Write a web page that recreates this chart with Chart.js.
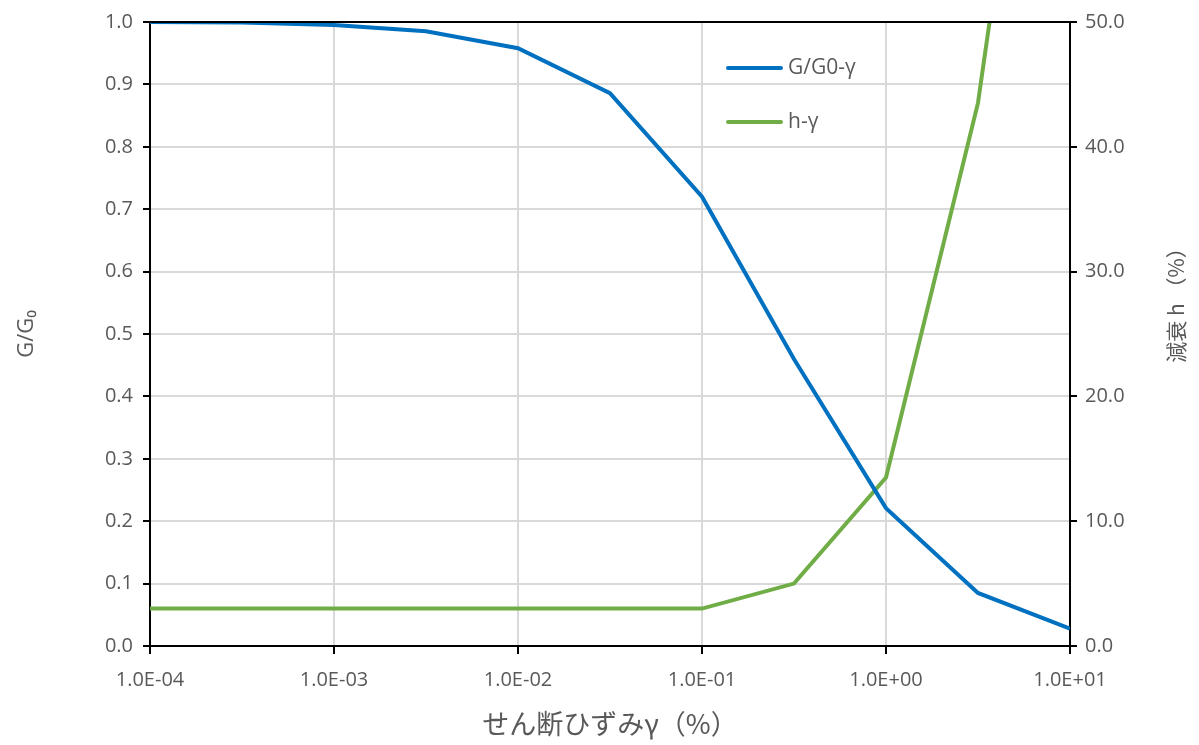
<!DOCTYPE html>
<html>
<head>
<meta charset="utf-8">
<script src="https://cdn.jsdelivr.net/npm/chart.js@4.4.1/dist/chart.umd.min.js"></script>
<style>
html,body{margin:0;padding:0;background:#fff;}
#wrap{width:1199px;height:745px;position:relative;}
</style>
</head>
<body>
<div id="wrap"><canvas id="c" width="1199" height="745"></canvas></div>
<script>
// strain γ (%)
const strain = [0.0001, 0.000316, 0.001, 0.00316, 0.01, 0.0316, 0.1, 0.316, 1, 3.16, 10];
// G/G0
const gRatio = [1.0, 0.999, 0.995, 0.985, 0.958, 0.886, 0.72, 0.46, 0.221, 0.085, 0.028];
// damping h (%)
const damping = [3.0, 3.0, 3.0, 3.0, 3.0, 3.0, 3.0, 5.0, 13.5, 43.5, 95];
const xTickValues = [0.0001, 0.001, 0.01, 0.1, 1, 10];
const xTickLabels = ['1.0E-04', '1.0E-03', '1.0E-02', '1.0E-01', '1.0E+00', '1.0E+01'];
const seriesNames = ['G/G0-γ', 'h-γ'];
const xTitle = 'せん断ひずみγ（%）';
const yTitle = 'G/G₀';
const y2Title = '減衰 h （%）';

const TXT = '#595959';
const GRID = '#d9d9d9';
const BLUE = '#0070C0';
const GREEN = '#70AD47';
const FONT = "'Open Sans', 'Noto Sans CJK JP', sans-serif";

const frame = {
  id: 'frame',
  afterDraw(chart) {
    const {ctx, chartArea: a} = chart;
    ctx.save();
    // top border
    ctx.strokeStyle = '#000';
    ctx.lineWidth = 2;
    ctx.beginPath();
    ctx.moveTo(a.left - 1, a.top);
    ctx.lineTo(a.right + 1, a.top);
    ctx.stroke();
    // legend
    const items = [[seriesNames[0], BLUE, 68], [seriesNames[1], GREEN, 122]];
    ctx.font = "21px " + FONT;
    ctx.textBaseline = 'middle';
    ctx.textAlign = 'left';
    items.forEach(([t, c, y]) => {
      ctx.strokeStyle = c;
      ctx.lineWidth = 4;
      ctx.lineCap = 'round';
      ctx.beginPath();
      ctx.moveTo(728, y);
      ctx.lineTo(781, y);
      ctx.stroke();
      ctx.fillStyle = TXT;
      ctx.fillText(t, 788, y);
    });
    // right axis title (reads bottom to top)
    ctx.translate(1176, 300);
    ctx.rotate(-Math.PI / 2);
    ctx.textAlign = 'center';
    ctx.font = "21px 'Noto Sans CJK JP', sans-serif";
    ctx.fillStyle = TXT;
    ctx.fillText(y2Title, 0, 0);
    ctx.restore();
  }
};

new Chart(document.getElementById('c'), {
  type: 'line',
  data: {
    datasets: [
      {
        label: seriesNames[0],
        data: strain.map((x, i) => ({x, y: gRatio[i]})),
        borderColor: BLUE, backgroundColor: BLUE,
        borderWidth: 4, pointRadius: 0, tension: 0, yAxisID: 'y'
      },
      {
        label: seriesNames[1],
        data: strain.map((x, i) => ({x, y: damping[i]})),
        borderColor: GREEN, backgroundColor: GREEN,
        borderWidth: 4, pointRadius: 0, tension: 0, yAxisID: 'y1'
      }
    ]
  },
  options: {
    responsive: false,
    animation: false,
    layout: {padding: {top: 22, left: 0, right: 0, bottom: 0}},
    plugins: {legend: {display: false}, tooltip: {enabled: false}},
    scales: {
      x: {
        type: 'logarithmic', min: 0.0001, max: 10,
        afterBuildTicks: s => { s.ticks = xTickValues.map(v => ({value: v})); },
        afterFit: s => { s.height = 99; },
        ticks: {
          color: TXT, font: {family: FONT, size: 20}, padding: 14, maxRotation: 0, autoSkip: false,
          callback: (v) => { const i = xTickValues.findIndex(t => Math.abs(Math.log10(t) - Math.log10(v)) < 1e-6); return i >= 0 ? xTickLabels[i] : ''; }
        },
        grid: {color: GRID, lineWidth: 2, tickColor: '#000', tickLength: 8, tickWidth: 2},
        border: {color: '#000', width: 2},
        title: {display: true, text: xTitle, color: TXT, font: {family: "'Noto Sans CJK JP', sans-serif", size: 27}, padding: {top: 0, bottom: 5}}
      },
      y: {
        position: 'left', min: 0, max: 1,
        afterFit: s => { s.width = 150; },
        ticks: {stepSize: 0.1, color: TXT, font: {family: FONT, size: 20}, padding: 10, callback: v => v.toFixed(1)},
        grid: {color: GRID, lineWidth: 2, tickColor: '#000', tickLength: 7, tickWidth: 2},
        border: {color: '#000', width: 2},
        title: {display: true, text: yTitle, color: TXT, font: {family: FONT, size: 22}, padding: {top: 14, bottom: 0}}
      },
      y1: {
        position: 'right', min: 0, max: 50,
        afterFit: s => { s.width = 129; },
        ticks: {stepSize: 10, color: TXT, font: {family: FONT, size: 20}, padding: 8, callback: v => v.toFixed(1)},
        grid: {drawOnChartArea: false, tickColor: '#000', tickLength: 7, tickWidth: 2, lineWidth: 2},
        border: {color: '#000', width: 2}
      }
    }
  },
  plugins: [frame]
});
</script>
</body>
</html>
